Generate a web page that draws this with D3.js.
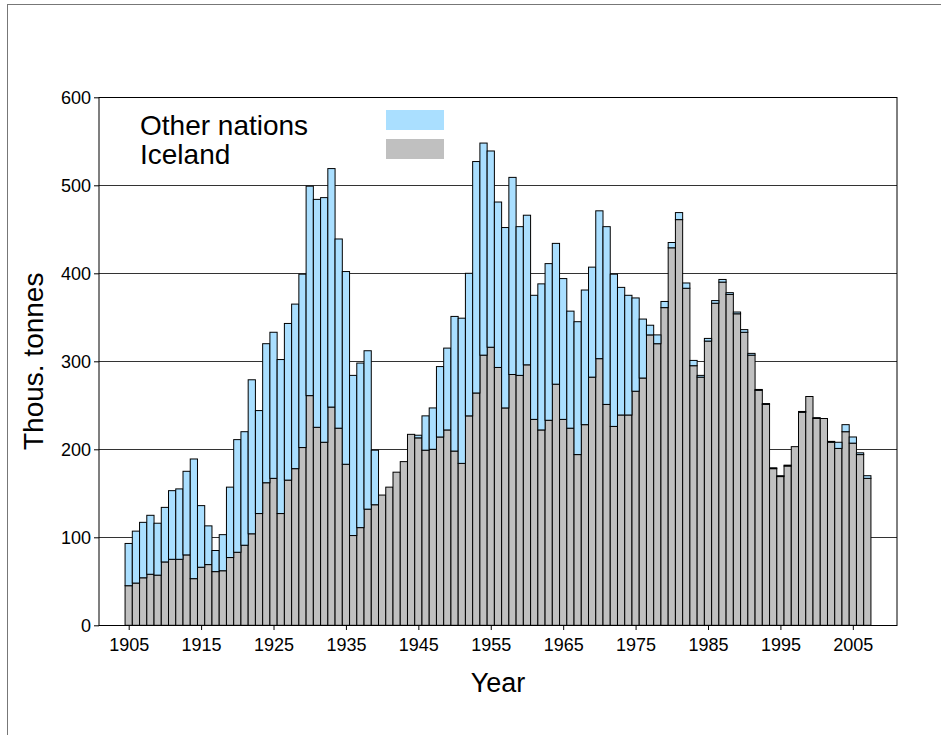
<!DOCTYPE html>
<html>
<head>
<meta charset="utf-8">
<script src="https://cdn.jsdelivr.net/npm/d3@7"></script>
<style>
  html, body { margin: 0; padding: 0; background: #fff; }
  svg { display: block; font-family: "Liberation Sans", Arial, sans-serif; }
</style>
</head>
<body>
<svg id="chart" width="941" height="735"></svg>
<script>
const years = d3.range(1905, 2008);
const iceland = [45,48,54,58,57,72,75,75,80,53,66,69,61,62,77,83,91,104,127,162,
  167,127,165,178,202,261,225,208,248,224,183,102,111,132,137,148,157,174,186,217,
  213,199,200,214,222,198,184,238,264,307,316,293,247,285,284,296,234,222,233,274,
  234,224,194,228,282,303,251,226,239,239,266,281,330,320,361,429,461,383,295,282,
  323,366,390,376,354,333,307,267,251,178,169,181,203,242,260,235,235,208,201,220,
  207,194,167];
const otherNations = [48,59,63,67,59,62,78,80,95,136,70,44,24,41,80,128,129,175,117,158,
  166,175,178,187,197,238,259,278,271,215,219,182,187,180,62,0,0,0,0,0,
  3,39,47,80,93,153,165,162,263,241,223,188,205,224,169,170,141,166,178,160,
  160,133,151,153,125,168,202,173,145,136,106,67,11,10,7,6,8,6,6,2,
  3,3,3,2,2,3,2,1,1,1,1,1,0,1,0,1,0,1,7,8,
  7,2,3];
const yTicks = [0,100,200,300,400,500,600];
const xTicks = [1905,1915,1925,1935,1945,1955,1965,1975,1985,1995,2005];
const seriesNames = ["Other nations", "Iceland"];
const seriesColors = ["#aadfff", "#c0c0c0"];

const rows = years.map((y, i) => ({year: y, iceland: iceland[i], other: otherNations[i]}));

const svg = d3.select("#chart");
const L = 99, R = 897, T = 97.3, B = 625.3;
const x = d3.scaleLinear().domain([1900.9, 2011.1]).range([L, R]);
const y = d3.scaleLinear().domain([0, 600]).range([B, T]);

// outer frame
svg.append("rect").attr("x", 7.5).attr("y", 4.5).attr("width", 1000).attr("height", 1000)
  .attr("fill", "none").attr("stroke", "#777").attr("stroke-width", 1);

// gridlines
svg.append("g").selectAll("line").data(yTicks.filter(d => d > 0)).join("line")
  .attr("x1", L).attr("x2", R)
  .attr("y1", d => Math.round(y(d)) + 0.5).attr("y2", d => Math.round(y(d)) + 0.5)
  .attr("stroke", "#333").attr("stroke-width", 1);

// bars
const bw = x(1) - x(0);
const gBars = svg.append("g");
gBars.selectAll("rect.ice").data(rows).join("rect").attr("class", "ice")
  .attr("x", d => x(d.year - 0.5)).attr("width", bw)
  .attr("y", d => y(d.iceland)).attr("height", d => y(0) - y(d.iceland))
  .attr("fill", seriesColors[1]).attr("stroke", "#000").attr("stroke-width", 1);
gBars.selectAll("rect.oth").data(rows.filter(d => d.other > 0)).join("rect").attr("class", "oth")
  .attr("x", d => x(d.year - 0.5)).attr("width", bw)
  .attr("y", d => y(d.iceland + d.other)).attr("height", d => y(d.iceland) - y(d.iceland + d.other))
  .attr("fill", seriesColors[0]).attr("stroke", "#000").attr("stroke-width", 1);

// plot box
svg.append("rect").attr("x", L).attr("y", Math.round(T) + 0.5).attr("width", R - L).attr("height", Math.round(B) - Math.round(T))
  .attr("fill", "none").attr("stroke", "#000").attr("stroke-width", 1);

// y axis
const yAxis = d3.axisLeft(y).tickValues(yTicks).tickSize(5).tickPadding(3);
const gy = svg.append("g").attr("transform", `translate(${L},0)`).call(yAxis);
gy.select(".domain").remove();
gy.selectAll("text").attr("font-size", 18).attr("fill", "#000").attr("font-family", "Liberation Sans, Arial, sans-serif");

// x axis
const xAxis = d3.axisBottom(x).tickValues(xTicks).tickFormat(d3.format("d")).tickSize(5).tickPadding(8);
const gx = svg.append("g").attr("transform", `translate(0,${Math.round(B)})`).call(xAxis);
gx.select(".domain").remove();
gx.selectAll("text").attr("font-size", 18).attr("fill", "#000").attr("font-family", "Liberation Sans, Arial, sans-serif");

// axis titles
svg.append("text").attr("x", (L + R) / 2).attr("y", 692).attr("text-anchor", "middle")
  .attr("font-size", 27).text("Year");
svg.append("text").attr("transform", `translate(43,${(T + B) / 2}) rotate(-90)`)
  .attr("text-anchor", "middle").attr("font-size", 28).text("Thous. tonnes");

// legend
const lg = svg.append("g");
seriesNames.forEach((n, i) => {
  lg.append("text").attr("x", 140).attr("y", 135 + i * 28.5).attr("font-size", 28).text(n);
  lg.append("rect").attr("x", 386).attr("y", 110 + i * 29).attr("width", 58).attr("height", 20)
    .attr("fill", seriesColors[i]);
});
</script>
</body>
</html>
